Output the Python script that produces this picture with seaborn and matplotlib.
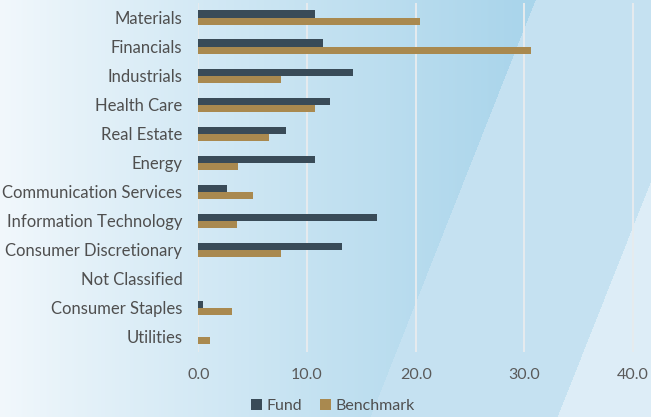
import numpy as np
import pandas as pd
import matplotlib
matplotlib.use("Agg")
import matplotlib.pyplot as plt
import seaborn as sns
from matplotlib.patches import Patch

categories = ["Materials", "Financials", "Industrials", "Health Care", "Real Estate",
              "Energy", "Communication Services", "Information Technology",
              "Consumer Discretionary", "Not Classified", "Consumer Staples", "Utilities"]
fund = [10.7, 11.5, 14.2, 12.1, 8.1, 10.7, 2.6, 16.4, 13.2, 0.0, 0.4, 0.0]
benchmark = [20.4, 30.6, 7.6, 10.7, 6.5, 3.65, 5.0, 3.6, 7.6, 0.0, 3.1, 1.1]
x_ticks = [0, 10, 20, 30, 40]
series_names = ["Fund", "Benchmark"]
colors = ["#394b58", "#a9894f"]

df = pd.DataFrame({
    "Sector": categories * 2,
    "Value": fund + benchmark,
    "Series": [series_names[0]] * len(categories) + [series_names[1]] * len(categories),
})

sns.set_theme(style="white")
plt.rcParams["font.family"] = ["Lato", "DejaVu Sans"]

W, H = 651, 417
fig = plt.figure(figsize=(W / 100, H / 100), dpi=100)

# background
bg = fig.add_axes([0, 0, 1, 1], zorder=-10)
bg.set_axis_off()
xx, yy = np.meshgrid(np.arange(W), np.arange(H))
t = np.clip(xx / 520.0, 0, 1) ** 0.9
c0 = np.array([242, 248, 252]) / 255
c1 = np.array([170, 213, 235]) / 255
img = c0[None, None, :] * (1 - t[..., None]) + c1[None, None, :] * t[..., None]
# diagonal line 1: (535,0) -> (370,417)
line1 = 535 + (370 - 535) * yy / 417.0
# diagonal line 2: (651,180) -> (557,417)
line2 = 651 + (557 - 651) * (yy - 180) / 237.0
reg2 = xx > line1
reg3 = (xx > line2) & (yy > 150)
c2 = np.array([197, 226, 241]) / 255
c3 = np.array([222, 238, 247]) / 255
img[reg2] = c2
img[reg3] = c3
bg.imshow(img, extent=[0, 1, 0, 1], aspect="auto", origin="upper")
bg.set_xlim(0, 1)
bg.set_ylim(0, 1)

ax = fig.add_axes([198.3 / W, 1 - 351.5 / H, (41 * 10.87) / W, (351.5 - 3.2) / H])
ax.patch.set_alpha(0)
sns.barplot(data=df, y="Sector", x="Value", hue="Series", orient="h",
            palette=colors, width=0.5, ax=ax, legend=False, saturation=1,
            edgecolor="none", zorder=3)
ax.set_xlim(0, 41)
ax.set_ylim(len(categories) - 0.5, -0.5)
ax.set_xticks(x_ticks)
ax.set_xticklabels([f"{v:.1f}" for v in x_ticks])
ax.set_xlabel("")
ax.set_ylabel("")
for s in ax.spines.values():
    s.set_visible(False)
ax.grid(False)
for v in x_ticks:
    ax.axvline(v, color="#e6ebee", lw=1.4, zorder=1)
ax.tick_params(axis="y", length=0, pad=11.5, labelsize=12, labelcolor="#4f4f4f")
ax.tick_params(axis="x", length=0, pad=12, labelsize=11.5, labelcolor="#5a5a5a")

handles = [Patch(facecolor=c, edgecolor="none") for c in colors]
fig.legend(handles, series_names, loc="center", bbox_to_anchor=(333 / W, 1 - 406 / H),
           ncol=2, frameon=False, fontsize=11.5, handlelength=0.7, handleheight=0.7,
           handletextpad=0.3, columnspacing=1.1, labelcolor="#4f4f4f")

fig.savefig("out.png", dpi=100)
